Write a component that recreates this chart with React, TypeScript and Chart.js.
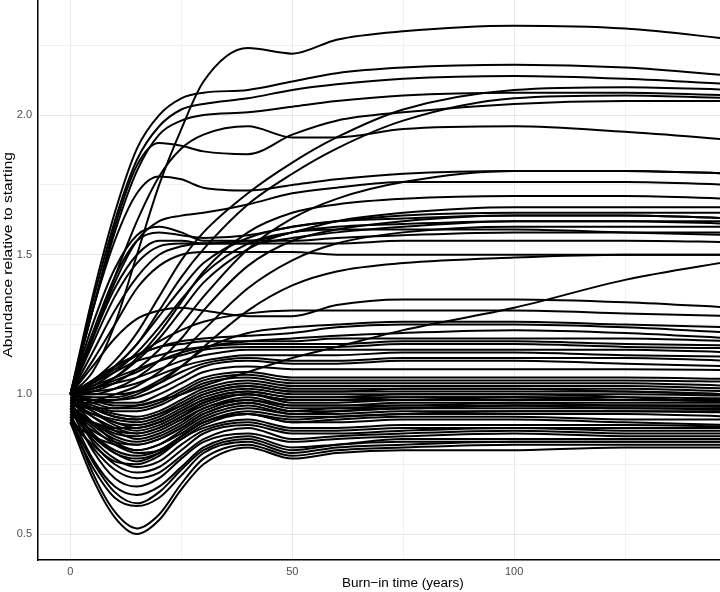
import React, { useEffect, useRef } from "react";
import { Chart, registerables } from "chart.js";

Chart.register(...registerables);

// Burn-in time sample points (years)
const years = [0, 5, 10, 15, 20, 25, 30, 40, 50, 60, 75, 100, 125, 150];

// Fast risers reaching a high plateau
const highRuns = [
  [1.0, 1.08, 1.25, 1.5, 1.75, 1.95, 2.12, 2.24, 2.22, 2.27, 2.3, 2.32, 2.31, 2.27],
  [1.0, 1.35, 1.65, 1.88, 2.0, 2.06, 2.08, 2.09, 2.12, 2.15, 2.17, 2.18, 2.17, 2.14],
  [1.0, 1.33, 1.62, 1.84, 1.96, 2.02, 2.04, 2.06, 2.09, 2.11, 2.13, 2.14, 2.13, 2.11],
  [1.0, 1.3, 1.58, 1.8, 1.93, 1.98, 2.0, 2.01, 2.03, 2.05, 2.07, 2.08, 2.08, 2.07],
  [1.0, 1.2, 1.42, 1.62, 1.78, 1.88, 1.93, 1.96, 1.92, 1.92, 1.95, 1.96, 1.94, 1.91],
  [1.0, 1.3, 1.6, 1.82, 1.9, 1.89, 1.87, 1.86, 1.93, 1.98, 2.01, 2.04, 2.05, 2.05],
];

// Slow risers ending high
const slowRuns = [
  [1.0, 1.05, 1.12, 1.22, 1.35, 1.48, 1.58, 1.72, 1.83, 1.92, 2.02, 2.09, 2.1, 2.09],
  [1.0, 1.04, 1.1, 1.18, 1.3, 1.42, 1.52, 1.68, 1.79, 1.88, 1.98, 2.06, 2.07, 2.06],
];

// Mid plateau runs (1.5 - 1.8)
const midRuns = [
  [1.0, 1.3, 1.55, 1.72, 1.78, 1.77, 1.74, 1.73, 1.75, 1.77, 1.79, 1.8, 1.8, 1.79],
  [1.0, 1.2, 1.4, 1.55, 1.62, 1.64, 1.65, 1.68, 1.72, 1.74, 1.76, 1.76, 1.76, 1.75],
  [1.0, 1.25, 1.45, 1.57, 1.6, 1.58, 1.55, 1.55, 1.58, 1.62, 1.65, 1.67, 1.67, 1.67],
  [1.0, 1.22, 1.42, 1.55, 1.58, 1.57, 1.56, 1.57, 1.6, 1.62, 1.64, 1.65, 1.65, 1.65],
  [1.0, 1.2, 1.38, 1.5, 1.55, 1.55, 1.54, 1.54, 1.56, 1.58, 1.6, 1.62, 1.62, 1.62],
  [1.0, 1.18, 1.35, 1.47, 1.53, 1.54, 1.54, 1.55, 1.55, 1.56, 1.57, 1.58, 1.58, 1.58],
  [1.0, 1.15, 1.3, 1.42, 1.5, 1.53, 1.54, 1.54, 1.54, 1.54, 1.55, 1.55, 1.55, 1.545],
  [1.0, 1.12, 1.25, 1.38, 1.46, 1.5, 1.51, 1.51, 1.51, 1.5, 1.5, 1.5, 1.5, 1.5],
  [1.0, 0.97, 0.95, 0.96, 0.98, 1.0, 1.03, 1.08, 1.13, 1.17, 1.23, 1.31, 1.41, 1.48],
];

// Delayed sigmoid risers
const delayedRuns = [
  [1.0, 1.02, 1.06, 1.12, 1.2, 1.3, 1.4, 1.52, 1.58, 1.6, 1.61, 1.62, 1.62, 1.61],
  [1.0, 1.0, 1.02, 1.06, 1.12, 1.2, 1.3, 1.46, 1.55, 1.59, 1.62, 1.64, 1.64, 1.63],
  [0.98, 0.98, 1.0, 1.03, 1.08, 1.15, 1.23, 1.38, 1.48, 1.54, 1.58, 1.6, 1.6, 1.6],
  [1.0, 1.03, 1.08, 1.15, 1.24, 1.34, 1.43, 1.54, 1.58, 1.59, 1.59, 1.59, 1.58, 1.57],
  [1.0, 1.04, 1.1, 1.18, 1.28, 1.38, 1.47, 1.56, 1.6, 1.62, 1.63, 1.64, 1.64, 1.63],
  [1.0, 1.02, 1.06, 1.13, 1.22, 1.33, 1.44, 1.58, 1.65, 1.68, 1.7, 1.71, 1.71, 1.7],
  [1.0, 1.01, 1.04, 1.09, 1.16, 1.25, 1.35, 1.52, 1.63, 1.7, 1.76, 1.8, 1.8, 1.79],
  [0.97, 0.97, 0.98, 1.0, 1.04, 1.1, 1.17, 1.3, 1.39, 1.44, 1.47, 1.49, 1.5, 1.5],
];

// Runs levelling near 1.2 - 1.35
const lowRiseRuns = [
  [1.0, 1.1, 1.2, 1.27, 1.3, 1.31, 1.3, 1.28, 1.28, 1.32, 1.34, 1.34, 1.33, 1.31],
  [1.0, 1.05, 1.1, 1.14, 1.17, 1.19, 1.2, 1.21, 1.22, 1.24, 1.25, 1.25, 1.24, 1.22],
  [1.0, 1.02, 1.05, 1.08, 1.12, 1.15, 1.17, 1.19, 1.2, 1.21, 1.22, 1.23, 1.22, 1.2],
  [1.0, 1.04, 1.09, 1.14, 1.19, 1.23, 1.26, 1.29, 1.3, 1.3, 1.3, 1.3, 1.29, 1.28],
  [1.0, 0.99, 0.99, 1.01, 1.05, 1.1, 1.16, 1.22, 1.24, 1.25, 1.26, 1.26, 1.25, 1.24],
];

// Upper part of the dense cluster (1.08 - 1.2)
const upperClusterRuns = [
  [1.0, 0.98, 0.97, 0.97, 1.0, 1.04, 1.08, 1.1, 1.09, 1.09, 1.09, 1.09, 1.09, 1.087],
  [0.98, 0.98, 0.98, 0.99, 1.02, 1.06, 1.1, 1.12, 1.11, 1.11, 1.12, 1.12, 1.11, 1.1],
  [1.0, 1.0, 1.0, 1.01, 1.04, 1.08, 1.11, 1.13, 1.12, 1.12, 1.13, 1.13, 1.13, 1.12],
  [1.0, 1.01, 1.02, 1.04, 1.07, 1.1, 1.12, 1.14, 1.14, 1.14, 1.15, 1.15, 1.14, 1.135],
  [1.0, 1.02, 1.04, 1.06, 1.09, 1.12, 1.14, 1.16, 1.16, 1.16, 1.16, 1.16, 1.16, 1.15],
  [1.0, 1.03, 1.06, 1.09, 1.12, 1.14, 1.16, 1.17, 1.17, 1.17, 1.18, 1.18, 1.17, 1.165],
  [1.0, 1.04, 1.08, 1.12, 1.14, 1.16, 1.17, 1.18, 1.18, 1.18, 1.19, 1.19, 1.18, 1.175],
  [1.0, 1.05, 1.1, 1.14, 1.17, 1.18, 1.19, 1.19, 1.19, 1.2, 1.2, 1.2, 1.2, 1.19],
];

// Dense cluster around 0.9 - 1.06
const midClusterRuns = [
  [0.95, 0.88, 0.82, 0.79, 0.8, 0.85, 0.9, 0.94, 0.92, 0.92, 0.93, 0.93, 0.93, 0.92],
  [0.98, 0.9, 0.83, 0.8, 0.82, 0.87, 0.92, 0.96, 0.93, 0.93, 0.94, 0.94, 0.94, 0.935],
  [0.93, 0.87, 0.83, 0.82, 0.84, 0.88, 0.93, 0.97, 0.94, 0.94, 0.95, 0.95, 0.95, 0.945],
  [0.96, 0.9, 0.85, 0.83, 0.85, 0.89, 0.94, 0.98, 0.95, 0.95, 0.96, 0.96, 0.96, 0.955],
  [0.99, 0.92, 0.87, 0.84, 0.86, 0.9, 0.95, 0.98, 0.96, 0.96, 0.96, 0.97, 0.96, 0.96],
  [0.94, 0.9, 0.86, 0.85, 0.87, 0.91, 0.95, 0.99, 0.96, 0.96, 0.97, 0.97, 0.97, 0.97],
  [0.97, 0.92, 0.88, 0.86, 0.88, 0.92, 0.96, 1.0, 0.97, 0.97, 0.98, 0.98, 0.98, 0.975],
  [1.0, 0.94, 0.89, 0.87, 0.89, 0.93, 0.97, 1.0, 0.98, 0.98, 0.98, 0.99, 0.98, 0.98],
  [0.92, 0.9, 0.88, 0.88, 0.9, 0.94, 0.98, 1.01, 0.99, 0.99, 0.99, 0.99, 0.99, 0.985],
  [0.98, 0.94, 0.9, 0.89, 0.91, 0.95, 0.99, 1.02, 1.0, 1.0, 1.0, 1.0, 1.0, 0.995],
  [0.95, 0.93, 0.91, 0.9, 0.92, 0.96, 1.0, 1.03, 1.01, 1.01, 1.01, 1.01, 1.01, 1.0],
  [1.0, 0.95, 0.92, 0.91, 0.93, 0.97, 1.01, 1.04, 1.02, 1.02, 1.02, 1.02, 1.02, 1.01],
  [0.97, 0.95, 0.93, 0.92, 0.94, 0.98, 1.02, 1.05, 1.03, 1.03, 1.03, 1.03, 1.03, 1.02],
  [0.99, 0.96, 0.94, 0.94, 0.96, 1.0, 1.04, 1.06, 1.04, 1.04, 1.04, 1.04, 1.04, 1.03],
  [0.96, 0.95, 0.95, 0.95, 0.97, 1.01, 1.05, 1.07, 1.05, 1.05, 1.05, 1.05, 1.05, 1.045],
  [1.0, 0.98, 0.96, 0.96, 0.98, 1.02, 1.06, 1.08, 1.06, 1.06, 1.06, 1.06, 1.06, 1.055],
  [0.96, 0.89, 0.84, 0.82, 0.84, 0.88, 0.93, 0.97, 0.94, 0.95, 0.95, 0.96, 0.95, 0.95],
  [0.93, 0.9, 0.87, 0.86, 0.88, 0.92, 0.97, 1.0, 0.98, 0.98, 0.99, 0.99, 0.98, 0.98],
  [0.99, 0.95, 0.92, 0.91, 0.93, 0.96, 1.0, 1.03, 1.01, 1.01, 1.02, 1.02, 1.01, 1.0],
  [0.97, 0.93, 0.9, 0.88, 0.9, 0.94, 0.98, 1.01, 0.99, 0.99, 1.0, 1.0, 0.99, 0.97],
  [0.9, 0.85, 0.82, 0.8, 0.82, 0.86, 0.91, 0.95, 0.93, 0.94, 0.95, 0.96, 0.96, 0.96],
];

// Deep-dipping runs settling near 0.8 - 0.9
const lowClusterRuns = [
  [0.9, 0.7, 0.56, 0.5, 0.55, 0.66, 0.75, 0.81, 0.77, 0.79, 0.8, 0.8, 0.81, 0.81],
  [0.92, 0.72, 0.58, 0.52, 0.57, 0.68, 0.77, 0.82, 0.78, 0.8, 0.81, 0.82, 0.82, 0.82],
  [0.9, 0.74, 0.63, 0.6, 0.63, 0.71, 0.79, 0.83, 0.79, 0.81, 0.82, 0.83, 0.83, 0.83],
  [0.93, 0.77, 0.67, 0.64, 0.67, 0.74, 0.81, 0.85, 0.81, 0.82, 0.84, 0.84, 0.84, 0.84],
  [0.95, 0.8, 0.7, 0.67, 0.7, 0.77, 0.83, 0.86, 0.83, 0.84, 0.85, 0.86, 0.85, 0.85],
  [0.92, 0.81, 0.73, 0.7, 0.72, 0.78, 0.84, 0.88, 0.84, 0.85, 0.86, 0.87, 0.86, 0.86],
  [0.96, 0.83, 0.75, 0.72, 0.74, 0.8, 0.86, 0.89, 0.86, 0.86, 0.87, 0.88, 0.87, 0.87],
  [0.94, 0.84, 0.77, 0.74, 0.76, 0.82, 0.87, 0.9, 0.87, 0.87, 0.88, 0.88, 0.88, 0.88],
  [0.9, 0.82, 0.76, 0.75, 0.78, 0.84, 0.88, 0.91, 0.88, 0.88, 0.89, 0.89, 0.89, 0.885],
  [0.97, 0.86, 0.79, 0.76, 0.79, 0.85, 0.9, 0.93, 0.9, 0.9, 0.91, 0.91, 0.9, 0.89],
  [0.91, 0.76, 0.65, 0.61, 0.65, 0.73, 0.8, 0.84, 0.8, 0.82, 0.83, 0.83, 0.83, 0.83],
  [0.94, 0.85, 0.79, 0.77, 0.79, 0.84, 0.89, 0.93, 0.9, 0.91, 0.92, 0.92, 0.91, 0.91],
  [0.95, 0.86, 0.8, 0.78, 0.8, 0.85, 0.9, 0.93, 0.91, 0.92, 0.93, 0.94, 0.94, 0.94],
];

const allRuns = [
  ...highRuns,
  ...slowRuns,
  ...midRuns,
  ...delayedRuns,
  ...lowRiseRuns,
  ...upperClusterRuns,
  ...midClusterRuns,
  ...lowClusterRuns,
];

const xTickLabels = [0, 50, 100];
const yTickLabels = [0.5, 1.0, 1.5, 2.0];
const xTitle = "Burn\u2212in time (years)";
const yTitle = "Abundance relative to starting";

const FONT = "'Liberation Sans', Arial, Helvetica, sans-serif";

const titlePlugin = {
  id: "axisTitles",
  afterDraw(chart: any) {
    const ctx = chart.ctx;
    const area = chart.chartArea;
    ctx.save();
    ctx.fillStyle = "#000000";
    ctx.font = `13.5px ${FONT}`;
    ctx.textAlign = "center";
    ctx.textBaseline = "middle";
    ctx.fillText(xTitle, area.left + (area.right - area.left) * 0.535, chart.height - 9);
    ctx.translate(8, area.top + (area.bottom - area.top) * 0.455);
    ctx.rotate(-Math.PI / 2);
    ctx.scale(1.15, 1);
    ctx.fillText(yTitle, 0, 0);
    ctx.restore();
  },
};

export default function App() {
  const ref = useRef<HTMLCanvasElement | null>(null);

  useEffect(() => {
    document.body.style.margin = "0";
    if (!ref.current) return;
    const datasets = allRuns.map((run, i) => ({
      label: `run ${i + 1}`,
      data: years.map((x, j) => ({ x, y: run[j] })),
      borderColor: "#000000",
      backgroundColor: "#000000",
      borderWidth: 2,
      pointRadius: 0,
      fill: false,
      cubicInterpolationMode: "monotone" as const,
    }));
    const chart = new Chart(ref.current, {
      type: "line",
      data: { datasets },
      plugins: [titlePlugin],
      options: {
        animation: false,
        responsive: false,
        maintainAspectRatio: false,
        layout: { padding: 0 },
        plugins: { legend: { display: false }, tooltip: { enabled: false } },
        scales: {
          x: {
            type: "linear",
            min: -7.3,
            max: 146.4,
            afterFit(scale: any) {
              scale.height = 32;
              scale.paddingLeft = 0;
              scale.paddingRight = 0;
            },
            border: { display: true, color: "#000000", width: 1.5 },
            grid: {
              drawTicks: false,
              color: (c: any) =>
                c.tick && xTickLabels.includes(c.tick.value) ? "#e8e8e8" : "#f1f1f1",
              lineWidth: 1,
            },
            ticks: {
              stepSize: 25,
              includeBounds: false,
              autoSkip: false,
              maxRotation: 0,
              padding: 5,
              color: "#4d4d4d",
              font: { family: FONT, size: 11 },
              callback: (v: any) => (xTickLabels.includes(Number(v)) ? String(v) : ""),
            },
          },
          y: {
            type: "linear",
            min: 0.407,
            max: 2.412,
            afterFit(scale: any) {
              scale.width = 38;
              scale.paddingTop = 0;
              scale.paddingBottom = 0;
            },
            border: { display: true, color: "#000000", width: 1.5 },
            grid: {
              drawTicks: false,
              color: (c: any) =>
                c.tick && yTickLabels.some((t) => Math.abs(t - c.tick.value) < 1e-6)
                  ? "#e8e8e8"
                  : "#f1f1f1",
              lineWidth: 1,
            },
            ticks: {
              stepSize: 0.25,
              includeBounds: false,
              autoSkip: false,
              padding: 6,
              color: "#4d4d4d",
              font: { family: FONT, size: 11 },
              callback: (v: any) => {
                const n = Number(v);
                return yTickLabels.some((t) => Math.abs(t - n) < 1e-6) ? n.toFixed(1) : "";
              },
            },
          },
        },
      },
    });
    return () => chart.destroy();
  }, []);

  return (
    <div style={{ width: 720, height: 592 }}>
      <canvas ref={ref} width={720} height={592} style={{ display: "block" }} />
    </div>
  );
}
